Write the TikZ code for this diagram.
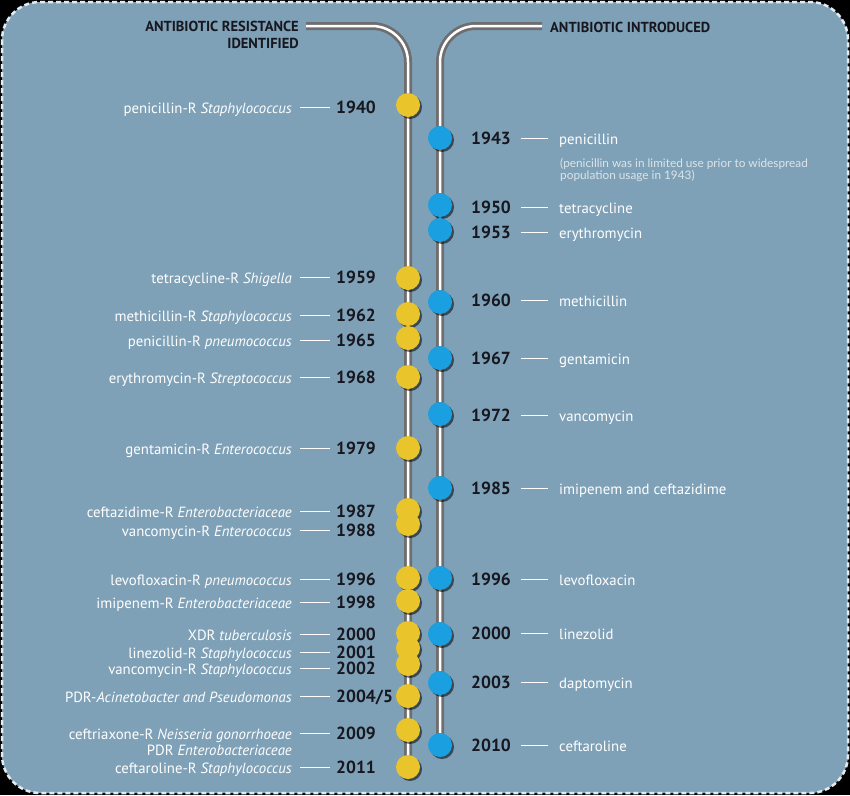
\documentclass[tikz,border=0pt]{standalone}
\usepackage{fontspec}
\setmainfont{PT Sans}
\newfontfamily\notefont{Lato}
\usetikzlibrary{positioning,shadows}
\definecolor{panel}{HTML}{7FA1B7}
\definecolor{panelrim}{HTML}{E4EBF0}
\definecolor{trackgrey}{HTML}{6E6E70}
\definecolor{resistyellow}{HTML}{E9C42A}
\definecolor{introblue}{HTML}{1A9FE0}
\definecolor{yeardark}{HTML}{17171F}
\definecolor{notegrey}{HTML}{DCE4EA}
\tikzset{
    % Track styles
    track/.style={line width=8pt, draw=trackgrey, rounded corners=36pt},
    track core/.style={line width=2.5pt, draw=white, rounded corners=36pt},
    % Dot styles
    dot/.style={circle, minimum size=24pt, inner sep=0pt,
                drop shadow={shadow xshift=2pt, shadow yshift=-2pt, opacity=0.55, fill=black}},
    resist dot/.style={dot, fill=resistyellow},
    intro dot/.style={dot, fill=introblue},
    % Text styles
    head text/.style={text=yeardark, font=\fontsize{14.5}{16.5}\selectfont\bfseries, inner sep=0pt},
    year text/.style={text=yeardark, font=\fontsize{17.5}{19}\selectfont\bfseries,
                      inner sep=0pt, text height=12.5pt, text depth=0pt},
    event text/.style={text=white, font=\fontsize{14.8}{16}\selectfont,
                       inner sep=0pt, text height=14pt, text depth=1.5pt},
    note text/.style={text=notegrey, font=\notefont\fontsize{11.8}{12.5}\selectfont,
                      inner sep=0pt, align=left},
    tick/.style={draw=white, line width=1pt},
}
% resistance entry: name, dot y, text y, year, label
\newcommand{\resistance}[5]{%
    \node[resist dot] (rd#1) at (408,#2) {};
    \node[year text, anchor=west] (ry#1) at (336,#3) {#4};
    \node[event text, anchor=east] (rl#1) at (292,#3) {#5};
    \draw[tick, shorten <=8pt, shorten >=6pt] (rl#1.east) -- (ry#1.west);
}
% introduction entry: year, dot y, text y, drug
\newcommand{\introduced}[4]{%
    \node[intro dot] (id#1) at (440,#2) {};
    \node[year text, anchor=west] (iy#1) at (471,#3) {#1};
    \node[event text, anchor=west] (il#1) at (559,#3) {#4};
    \draw[tick, shorten <=10pt, shorten >=11pt] (iy#1.east) -- (il#1.west);
}

\begin{document}
\begin{tikzpicture}[x=1pt, y=-1pt]
    % Panel
    \fill[black] (0,0) rectangle (850,795);
    \draw[fill=panel, draw=panelrim, line width=2.5pt, dash pattern=on 5pt off 3pt,
          rounded corners=38pt] (2,2) rectangle (848,793);
    \useasboundingbox (0,0) rectangle (850,795);

    % Headers
    \node[head text, anchor=east, align=right] (rhead) at (299,35)
        {ANTIBIOTIC RESISTANCE\\IDENTIFIED};
    \node[head text, anchor=west] (ihead) at (550,27) {ANTIBIOTIC INTRODUCED};

    % Tracks
    \coordinate (rtop) at (306,26);
    \coordinate (rend) at (408,767);
    \coordinate (itop) at (542,26);
    \coordinate (iend) at (440,745);
    \draw[track] (rtop) -| (rend);
    \draw[track core] (rtop) -| (rend);
    \draw[track] (itop) -| (iend);
    \draw[track core] (itop) -| (iend);

    % Resistance identified
    \resistance{1940}{105}{107}{1940}{penicillin-R \textit{Staphylococcus}}
    \resistance{1959}{278}{277}{1959}{tetracycline-R \textit{Shigella}}
    \resistance{1962}{314}{315}{1962}{methicillin-R \textit{Staphylococcus}}
    \resistance{1965}{338}{340}{1965}{penicillin-R \textit{pneumococcus}}
    \resistance{1968}{377}{377}{1968}{erythromycin-R \textit{Streptococcus}}
    \resistance{1979}{448}{448}{1979}{gentamicin-R \textit{Enterococcus}}
    \resistance{1987}{510}{511}{1987}{ceftazidime-R \textit{Enterobacteriaceae}}
    \resistance{1988}{524}{530}{1988}{vancomycin-R \textit{Enterococcus}}
    \resistance{1996}{578}{579}{1996}{levofloxacin-R \textit{pneumococcus}}
    \resistance{1998}{601}{602}{1998}{imipenem-R \textit{Enterobacteriaceae}}
    \resistance{2000}{633}{634}{2000}{XDR \textit{tuberculosis}}
    \resistance{2001}{648}{652}{2001}{linezolid-R \textit{Staphylococcus}}
    \resistance{2002}{664}{668}{2002}{vancomycin-R \textit{Staphylococcus}}
    \resistance{2004}{696}{696}{2004/5}{PDR-\textit{Acinetobacter and Pseudomonas}}
    \resistance{2009}{730}{733}{2009}{ceftriaxone-R \textit{Neisseria gonorrhoeae}}
    \node[event text, anchor=east] (rlPDR) at (292,749) {PDR \textit{Enterobacteriaceae}};
    \resistance{2011}{767}{767}{2011}{ceftaroline-R \textit{Staphylococcus}}

    % Antibiotic introduced
    \introduced{1943}{138}{138}{penicillin}
    \node[note text, anchor=north west] (penote) at (560,158)
        {(penicillin was in limited use prior to widespread\\population usage in 1943)};
    \introduced{1950}{205}{207}{tetracycline}
    \introduced{1953}{230}{232}{erythromycin}
    \introduced{1960}{302}{300}{methicillin}
    \introduced{1967}{358}{358}{gentamicin}
    \introduced{1972}{414}{415}{vancomycin}
    \introduced{1985}{488}{488}{imipenem and ceftazidime}
    \introduced{1996}{578}{579}{levofloxacin}
    \introduced{2000}{634}{633}{linezolid}
    \introduced{2003}{683}{682}{daptomycin}
    \introduced{2010}{745}{745}{ceftaroline}
\end{tikzpicture}
\end{document}
